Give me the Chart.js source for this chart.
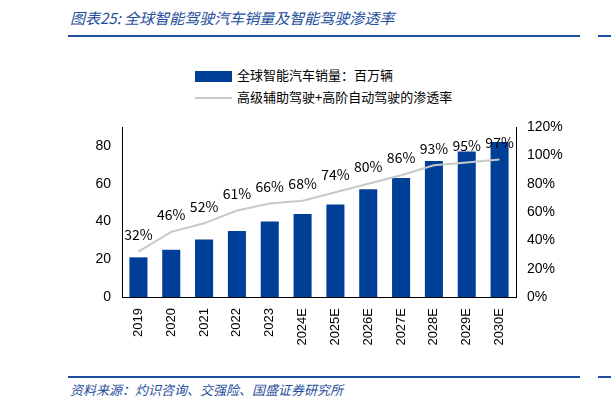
<!DOCTYPE html>
<html><head><meta charset="utf-8">
<script src="https://cdn.jsdelivr.net/npm/chart.js@4"></script>
<style>
body{margin:0;width:611px;height:410px;background:#fff;position:relative;font-family:"Noto Sans CJK SC",sans-serif;overflow:hidden}
#t{position:absolute;left:70px;top:7px;font-size:15px;color:#1f4e9c;font-style:italic}
#l1{position:absolute;left:68px;top:35px;width:512px;height:2px;background:#1f4e9c}
#l2{position:absolute;left:598px;top:35px;width:13px;height:2px;background:#1f4e9c}
#l3{position:absolute;left:68px;top:376px;width:512px;height:2px;background:#1f4e9c}
#l4{position:absolute;left:598px;top:376px;width:13px;height:2px;background:#1f4e9c}
#f{position:absolute;left:70px;top:380px;font-size:13px;color:#1f4e9c;font-style:italic}
#c{position:absolute;left:75px;top:115px}
.lg{position:absolute;left:195px;font-size:13px;color:#000;line-height:16px}
.lg span{display:inline-block;vertical-align:middle;margin-right:5px}
</style></head><body>
<div id="t">图表25:  全球智能驾驶汽车销量及智能驾驶渗透率</div>
<div id="l1"></div><div id="l2"></div>
<div id="l3"></div><div id="l4"></div>
<div class="lg" style="top:67px"><span style="width:37px;height:11px;background:#003f98"></span>全球智能汽车销量：百万辆</div>
<div class="lg" style="top:89px"><span style="width:37px;height:2px;background:#c8c8c8"></span>高级辅助驾驶+高阶自动驾驶的渗透率</div>
<div id="f">资料来源：灼识咨询、交强险、国盛证券研究所</div>
<canvas id="c" width="496" height="232" style="width:496px;height:232px"></canvas>
<script>
const categories=["2019","2020","2021","2022","2023","2024E","2025E","2026E","2027E","2028E","2029E","2030E"];
const sales=[21,25,30.5,35,40,44,49,57,63,72,77,82];
const penetration=[32,46,52,61,66,68,74,80,86,93,95,97];
const labelPlugin={id:'lbl',afterDatasetsDraw(chart){
 const ctx=chart.ctx;const meta=chart.getDatasetMeta(1);
 ctx.save();ctx.font='14px "Noto Sans CJK SC", sans-serif';ctx.fillStyle='#000';ctx.textAlign='center';ctx.textBaseline='bottom';
 meta.data.forEach((p,i)=>{ctx.fillText(penetration[i]+'%',p.x,p.y-10);});
 ctx.restore();}};
new Chart(document.getElementById('c'),{
 data:{labels:categories,datasets:[
  {type:'bar',label:'全球智能汽车销量：百万辆',data:sales,backgroundColor:'#003f98',yAxisID:'y',barPercentage:0.55,categoryPercentage:1,order:2},
  {type:'line',label:'高级辅助驾驶+高阶自动驾驶的渗透率',data:penetration,borderColor:'#c8c8c8',borderWidth:2,pointRadius:0,yAxisID:'y1',order:1}
 ]},
 options:{responsive:false,animation:false,
  layout:{padding:{top:12,left:0,right:0,bottom:0}},
  plugins:{legend:{display:false},tooltip:{enabled:false}},
  scales:{
   x:{grid:{display:false},border:{color:'#000'},afterFit:s=>{s.height=50},ticks:{color:'#000',maxRotation:90,minRotation:90,font:{size:13}}},
   y:{position:'left',min:0,max:90,afterFit:s=>{s.width=47},ticks:{stepSize:10,color:'#000',font:{size:14}},grid:{display:false},border:{color:'#000'}},
   y1:{position:'right',min:0,max:120,afterFit:s=>{s.width=55},ticks:{stepSize:20,color:'#000',font:{size:14},callback:v=>v+'%'},grid:{display:false},border:{color:'#000'}}
  }},
 plugins:[labelPlugin]
});
</script></body></html>
